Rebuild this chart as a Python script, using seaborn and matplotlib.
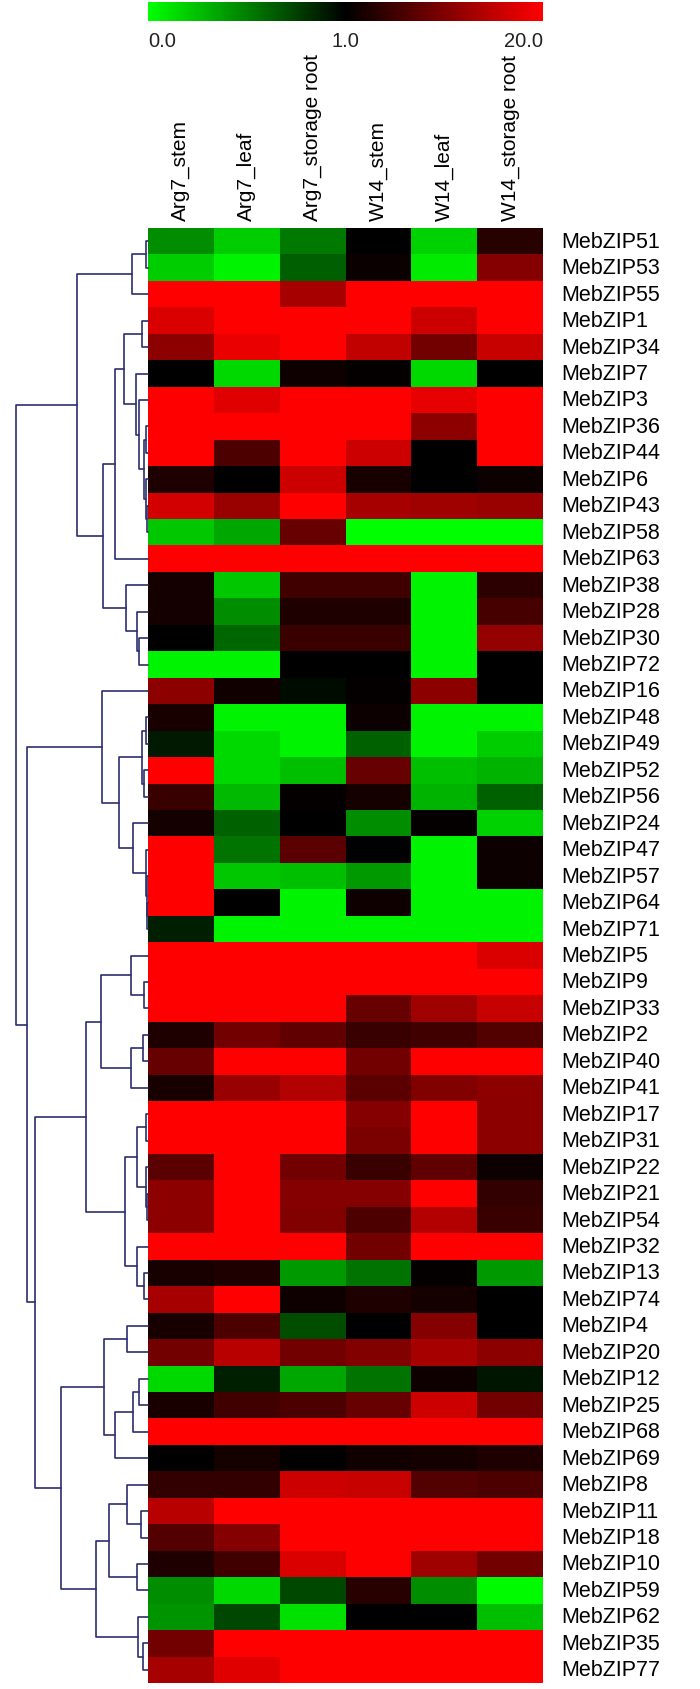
import numpy as np
import pandas as pd
import matplotlib
matplotlib.use('Agg')
import matplotlib.pyplot as plt
import seaborn as sns
from matplotlib.colors import LinearSegmentedColormap, TwoSlopeNorm

# gene order as shown (top to bottom)
genes = ['MebZIP51', 'MebZIP53', 'MebZIP55', 'MebZIP1', 'MebZIP34', 'MebZIP7', 'MebZIP3',
         'MebZIP36', 'MebZIP44', 'MebZIP6', 'MebZIP43', 'MebZIP58', 'MebZIP63', 'MebZIP38',
         'MebZIP28', 'MebZIP30', 'MebZIP72', 'MebZIP16', 'MebZIP48', 'MebZIP49', 'MebZIP52',
         'MebZIP56', 'MebZIP24', 'MebZIP47', 'MebZIP57', 'MebZIP64', 'MebZIP71', 'MebZIP5',
         'MebZIP9', 'MebZIP33', 'MebZIP2', 'MebZIP40', 'MebZIP41', 'MebZIP17', 'MebZIP31',
         'MebZIP22', 'MebZIP21', 'MebZIP54', 'MebZIP32', 'MebZIP13', 'MebZIP74', 'MebZIP4',
         'MebZIP20', 'MebZIP12', 'MebZIP25', 'MebZIP68', 'MebZIP69', 'MebZIP8', 'MebZIP11',
         'MebZIP18', 'MebZIP10', 'MebZIP59', 'MebZIP62', 'MebZIP35', 'MebZIP77']

tissues = ['Arg7_stem', 'Arg7_leaf', 'Arg7_storage root', 'W14_stem', 'W14_leaf', 'W14_storage root']

# relative expression (estimated from colours)
arg7_stem = [0.45, 0.2, 20, 17.2, 11.5, 1.0, 20, 20, 20, 3.3, 16.6, 0.22, 20, 2.5,
             2.5, 1.0, 0.05, 11.5, 2.9, 0.9, 20, 5.2, 2.5, 20, 20, 20, 0.88, 20,
             20, 20, 3.3, 8.6, 2.9, 20, 20, 7.7, 11.5, 11.5, 20, 2.9, 13.4, 2.9,
             9.6, 0.15, 2.9, 20, 1.0, 4.8, 14.7, 7.1, 3.3, 0.45, 0.42, 9.6, 13.4]
arg7_leaf = [0.2, 0.05, 20, 20, 18.5, 0.15, 17.5, 20, 6.7, 1.0, 12.4, 0.35, 20, 0.22,
             0.45, 0.6, 0.05, 2.3, 0.05, 0.15, 0.15, 0.28, 0.62, 0.55, 0.22, 1.0, 0.05, 20,
             20, 20, 9.6, 20, 12.4, 20, 20, 20, 20, 20, 20, 3.3, 20, 6.7,
             14.7, 0.88, 5.8, 20, 2.5, 4.8, 20, 10.9, 5.8, 0.15, 0.72, 20, 17.7]
arg7_root = [0.53, 0.63, 13.4, 20, 20, 2.1, 20, 20, 20, 16.2, 20, 8.6, 20, 5.8,
             3.3, 5.2, 1.0, 0.96, 0.05, 0.05, 0.25, 1.4, 1.0, 7.7, 0.25, 0.05, 0.05, 20,
             20, 20, 8.2, 20, 14.3, 20, 20, 9.6, 10.9, 10.5, 20, 0.4, 2.1, 0.7,
             9.6, 0.35, 6.7, 20, 1.0, 16.2, 20, 20, 17.2, 0.72, 0.12, 20, 20]
w14_stem = [1.0, 1.8, 20, 20, 15.3, 1.4, 20, 20, 16.2, 2.9, 13.4, 0.0, 20, 5.8,
            3.3, 5.2, 1.0, 1.4, 2.0, 0.62, 8.6, 2.5, 0.45, 1.0, 0.4, 2.1, 0.05, 20,
            20, 8.6, 5.2, 9.6, 7.7, 10.9, 10.1, 5.2, 10.9, 6.7, 9.6, 0.55, 3.3, 1.0,
            10.5, 0.55, 8.6, 20, 2.3, 15.8, 20, 20, 20, 3.9, 1.0, 20, 20]
w14_leaf = [0.18, 0.08, 20, 16.2, 9.6, 0.15, 18.1, 11.5, 1.0, 1.0, 12.8, 0.0, 20, 0.05,
            0.05, 0.05, 0.05, 11.5, 0.05, 0.05, 0.25, 0.3, 1.4, 0.05, 0.05, 0.05, 0.05, 20,
            20, 12.8, 5.8, 20, 10.5, 20, 20, 8.2, 20, 14.3, 20, 1.4, 2.5, 10.9,
            13.4, 2.1, 16.2, 20, 2.5, 7.1, 20, 20, 12.8, 0.45, 1.0, 20, 20]
w14_root = [3.9, 10.9, 20, 20, 15.8, 1.0, 20, 20, 20, 2.0, 12.4, 0.0, 20, 4.4,
            6.3, 12.0, 1.0, 1.0, 0.05, 0.2, 0.3, 0.62, 0.18, 2.0, 2.0, 0.05, 0.05, 17.2,
            20, 15.8, 7.1, 20, 11.5, 11.5, 11.5, 2.0, 4.8, 5.2, 20, 0.4, 1.0, 1.0,
            11.5, 0.92, 9.6, 20, 3.3, 6.7, 20, 20, 9.6, 0.02, 0.25, 20, 20]

# row dendrogram merges: (left, right, height); str = gene, int = earlier merge
merges = [
    ('MebZIP51', 'MebZIP53', 2.3),   # 0
    (0, 'MebZIP55', 16),             # 1
    ('MebZIP1', 'MebZIP34', 6),      # 2
    ('MebZIP36', 'MebZIP44', 2),     # 3
    ('MebZIP43', 'MebZIP58', 1.5),   # 4
    ('MebZIP6', 4, 2.5),             # 5
    (3, 5, 3.7),                     # 6
    ('MebZIP3', 6, 9.3),             # 7
    ('MebZIP7', 7, 12),              # 8
    (2, 8, 24),                      # 9
    (9, 'MebZIP63', 33),             # 10
    ('MebZIP30', 'MebZIP72', 8.7),   # 11
    ('MebZIP28', 11, 11.3),          # 12
    ('MebZIP38', 12, 22),            # 13
    (10, 13, 45),                    # 14
    (1, 14, 71),                     # 15
    ('MebZIP48', 'MebZIP49', 2.3),   # 16
    ('MebZIP52', 'MebZIP56', 4),     # 17
    (16, 17, 6.3),                   # 18
    ('MebZIP64', 'MebZIP71', 1),     # 19
    ('MebZIP57', 19, 1.3),           # 20
    ('MebZIP47', 20, 1.7),           # 21
    ('MebZIP24', 21, 14.7),          # 22
    (18, 22, 29),                    # 23
    ('MebZIP16', 23, 46.3),          # 24
    ('MebZIP9', 'MebZIP33', 3.7),    # 25
    ('MebZIP5', 25, 17.3),           # 26
    ('MebZIP2', 'MebZIP40', 4.7),    # 27
    (27, 'MebZIP41', 17.3),          # 28
    (26, 28, 47.3),                  # 29
    ('MebZIP17', 'MebZIP31', 2.3),   # 30
    ('MebZIP21', 'MebZIP54', 1.5),   # 31
    ('MebZIP22', 31, 2.5),           # 32
    (30, 32, 10.7),                  # 33
    ('MebZIP13', 'MebZIP74', 3.7),   # 34
    ('MebZIP32', 34, 11.3),          # 35
    (33, 35, 23),                    # 36
    (29, 36, 62),                    # 37
    ('MebZIP4', 'MebZIP20', 21.3),   # 38
    ('MebZIP12', 'MebZIP25', 8.7),   # 39
    (39, 'MebZIP68', 14.7),          # 40
    (40, 'MebZIP69', 33),            # 41
    (38, 41, 43.7),                  # 42
    ('MebZIP11', 'MebZIP18', 7.3),   # 43
    ('MebZIP8', 43, 21.3),           # 44
    ('MebZIP10', 'MebZIP59', 11.3),  # 45
    (44, 45, 39),                    # 46
    ('MebZIP35', 'MebZIP77', 4.7),   # 47
    ('MebZIP62', 47, 10.3),          # 48
    (46, 48, 52.3),                  # 49
    (42, 49, 87),                    # 50
    (37, 50, 113.3),                 # 51
    (24, 51, 120.7),                 # 52
    (15, 52, 132),                   # 53
]

df = pd.DataFrame({tissues[0]: arg7_stem, tissues[1]: arg7_leaf, tissues[2]: arg7_root,
                   tissues[3]: w14_stem, tissues[4]: w14_leaf, tissues[5]: w14_root},
                  index=genes)

sns.set_theme(style='white')
plt.rcParams['font.family'] = ['Liberation Sans', 'DejaVu Sans']

W, H = 700, 1690
fig = plt.figure(figsize=(W / 100, H / 100), dpi=100)
ax_cb = fig.add_axes([148 / W, 1 - 22 / H, 395 / W, 19 / H])
ax_hm = fig.add_axes([148 / W, 1 - 1684 / H, 395 / W, 1455 / H])
ax_dg = fig.add_axes([0, 1 - 1684 / H, 148 / W, 1455 / H])

cmap = LinearSegmentedColormap.from_list('gbr', ['#00ff00', '#000000', '#ff0000'])
norm = TwoSlopeNorm(vmin=0, vcenter=1, vmax=20)

sns.heatmap(df, ax=ax_hm, cmap=cmap, norm=norm, cbar_ax=ax_cb,
            cbar_kws={'orientation': 'horizontal'},
            xticklabels=True, yticklabels=True)

# heatmap labels
ax_hm.xaxis.tick_top()
ax_hm.yaxis.tick_right()
ax_hm.tick_params(axis='both', length=0, colors='black')
ax_hm.tick_params(axis='x', pad=6, labelsize=15, labeltop=True, labelbottom=False)
ax_hm.tick_params(axis='y', pad=13, labelsize=15.5, labelright=True, labelleft=False)
plt.setp(ax_hm.get_xticklabels(), rotation=90, va='bottom', ha='center')
plt.setp(ax_hm.get_yticklabels(), rotation=0, va='center')
ax_hm.set_xlabel('')
ax_hm.set_ylabel('')

# colorbar
cb = ax_hm.collections[0].colorbar
cb.set_ticks([0, 1, 20])
cb.set_ticklabels(['0.0', '1.0', '20.0'])
cb.outline.set_visible(False)
ax_cb.tick_params(length=0, pad=7, labelsize=14.5, colors='#222222')
labs = ax_cb.get_xticklabels()
labs[0].set_ha('left')
labs[-1].set_ha('right')

# dendrogram
leaf_y = {g: i + 0.5 for i, g in enumerate(genes)}
node_y, node_h = [], []
for a, b, h in merges:
    ya = leaf_y[a] if isinstance(a, str) else node_y[a]
    ha = 0 if isinstance(a, str) else node_h[a]
    yb = leaf_y[b] if isinstance(b, str) else node_y[b]
    hb = 0 if isinstance(b, str) else node_h[b]
    ax_dg.plot([ha, h, h, hb], [ya, ya, yb, yb], color='#2b2f6e', lw=1.2, clip_on=False)
    node_y.append((ya + yb) / 2)
    node_h.append(h)
ax_dg.set_xlim(148, 0)
ax_dg.set_ylim(len(genes), 0)
ax_dg.axis('off')

fig.savefig('out.png', dpi=100, facecolor='white')
